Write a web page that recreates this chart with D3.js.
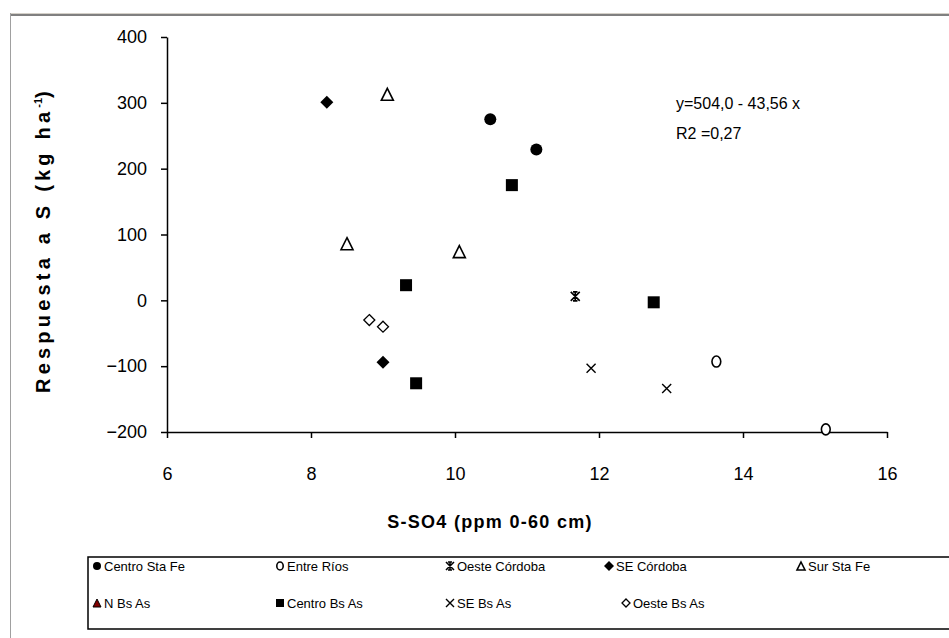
<!DOCTYPE html>
<html lang="es">
<head>
<meta charset="utf-8">
<script src="https://d3js.org/d3.v7.min.js"></script>
<style>
  body { margin: 0; background: #fff; }
  text { font-family: "Liberation Sans", Arial, sans-serif; fill: #000; }
</style>
</head>
<body>
<div id="chart"></div>
<script>
// groups in legend order
const groups = ["Centro Sta Fe", "Entre Ríos", "Oeste Córdoba", "SE Córdoba", "Sur Sta Fe",
                "N Bs As", "Centro Bs As", "SE Bs As", "Oeste Bs As"];

// points per group: S-SO4 (ppm) and response (kg/ha)
const centroStaFe = [[10.49, 275], [11.13, 229]];
const entreRios   = [[13.63, -93], [15.15, -196]];
const oesteCordoba = [[11.67, 6]];
const seCordoba   = [[8.22, 301], [9.0, -94]];
const surStaFe    = [[9.06, 313], [8.5, 86], [10.06, 74]];
const nBsAs       = [];
const centroBsAs  = [[10.79, 175], [9.32, 23], [12.76, -3], [9.46, -126]];
const seBsAs      = [[11.89, -103], [12.94, -134]];
const oesteBsAs   = [[8.81, -30], [9.0, -40]];

const xTicks = [6, 8, 10, 12, 14, 16];
const yTicks = [-200, -100, 0, 100, 200, 300, 400];

const W = 949, H = 638;
const svg = d3.select("#chart").append("svg").attr("width", W).attr("height", H);

// window frame
svg.append("line").attr("x1", 10).attr("x2", W).attr("y1", 13.5).attr("y2", 13.5).attr("stroke", "#d4d0c8").attr("stroke-width", 1);
svg.append("line").attr("x1", 10).attr("x2", W).attr("y1", 15).attr("y2", 15).attr("stroke", "#808080").attr("stroke-width", 2);
svg.append("line").attr("x1", 10.5).attr("x2", 10.5).attr("y1", 13).attr("y2", H).attr("stroke", "#a0a0a0").attr("stroke-width", 1);

const x = d3.scaleLinear().domain([6, 16]).range([167, 887]);
const y = d3.scaleLinear().domain([-200, 400]).range([432, 37]);

// axes
const xAxis = svg.append("g").attr("transform", "translate(0,432)")
  .call(d3.axisBottom(x).tickValues(xTicks).tickSize(6).tickSizeOuter(0));
const yAxis = svg.append("g").attr("transform", "translate(167,0)")
  .call(d3.axisLeft(y).tickValues(yTicks).tickSize(6).tickPadding(14).tickSizeOuter(0));
[xAxis, yAxis].forEach(g => {
  g.select(".domain").attr("stroke", "#000").attr("stroke-width", 1.5);
  g.selectAll(".tick line").attr("stroke", "#000").attr("stroke-width", 1.5);
  g.selectAll(".tick text").style("font-size", "18px").attr("fill", "#000");
});
xAxis.selectAll(".tick text").attr("y", 48).attr("dy", "0");

// axis titles
svg.append("text").attr("x", 490).attr("y", 528).attr("text-anchor", "middle")
  .style("font-size", "18px").style("font-weight", "bold").style("letter-spacing", "1.3px")
  .text("S-SO4 (ppm 0-60 cm)");
const yt = svg.append("text").attr("transform", "translate(50,240) rotate(-90)")
  .attr("text-anchor", "middle").style("font-size", "20px").style("font-weight", "bold")
  .style("letter-spacing", "4.2px");
yt.append("tspan").text("Respuesta a S (kg ha");
yt.append("tspan").attr("dy", -8).style("font-size", "11px").style("letter-spacing", "0px").text("-1");
yt.append("tspan").attr("dy", 8).text(")");

// regression text
svg.append("text").attr("x", 676).attr("y", 109).style("font-size", "16px").text("y=504,0 - 43,56 x");
svg.append("text").attr("x", 676).attr("y", 139).style("font-size", "16px").text("R2 =0,27");

// marker drawing
function marker(g, type, s) {
  const h = s / 2;
  if (type === "circleFill") g.append("circle").attr("r", h).attr("fill", "#000");
  else if (type === "circleOpen") g.append("ellipse").attr("rx", h * 0.8).attr("ry", h).attr("fill", "#fff").attr("stroke", "#000").attr("stroke-width", 1.6);
  else if (type === "square") g.append("rect").attr("x", -h).attr("y", -h).attr("width", s).attr("height", s).attr("fill", "#000");
  else if (type === "diamondFill") g.append("path").attr("d", `M0,${-h - 1}L${h + 1},0L0,${h + 1}L${-h - 1},0Z`).attr("fill", "#000");
  else if (type === "diamondOpen") g.append("path").attr("d", `M0,${-h}L${h},0L0,${h}L${-h},0Z`).attr("fill", "#fff").attr("stroke", "#000").attr("stroke-width", 1.3);
  else if (type === "triOpen") g.append("path").attr("d", `M0,${-h}L${h},${h}L${-h},${h}Z`).attr("fill", "#fff").attr("stroke", "#000").attr("stroke-width", 1.6);
  else if (type === "triRed") g.append("path").attr("d", `M0,${-h}L${h},${h}L${-h},${h}Z`).attr("fill", "#800000").attr("stroke", "#000").attr("stroke-width", 1);
  else if (type === "cross") g.append("path").attr("d", `M${-h},${-h}L${h},${h}M${h},${-h}L${-h},${h}`).attr("stroke", "#000").attr("stroke-width", 1.4);
  else if (type === "star") g.append("path").attr("d", `M${-h},${-h}L${h},${h}M${h},${-h}L${-h},${h}M0,${-h}L0,${h}M${-h/2},${-h}L${h/2},${-h}M${-h/2},${h}L${h/2},${h}`).attr("stroke", "#000").attr("stroke-width", 1.6);
}

const series = [
  { name: groups[0], data: centroStaFe, type: "circleFill", size: 12 },
  { name: groups[1], data: entreRios, type: "circleOpen", size: 11 },
  { name: groups[2], data: oesteCordoba, type: "star", size: 9 },
  { name: groups[3], data: seCordoba, type: "diamondFill", size: 11 },
  { name: groups[4], data: surStaFe, type: "triOpen", size: 12 },
  { name: groups[5], data: nBsAs, type: "triRed", size: 12 },
  { name: groups[6], data: centroBsAs, type: "square", size: 12 },
  { name: groups[7], data: seBsAs, type: "cross", size: 9 },
  { name: groups[8], data: oesteBsAs, type: "diamondOpen", size: 11 }
];

series.forEach(s => {
  s.data.forEach(d => {
    const g = svg.append("g").attr("transform", `translate(${x(d[0])},${y(d[1])})`);
    marker(g, s.type, s.size);
  });
});

// legend
svg.append("rect").attr("x", 88).attr("y", 557).attr("width", W).attr("height", 72)
  .attr("fill", "#fff").attr("stroke", "#000").attr("stroke-width", 1.5);
const legCols = [97, 280, 450, 609, 801];
series.forEach((s, i) => {
  const col = i < 5 ? i : i - 5;
  const row = i < 5 ? 0 : 1;
  let cx = legCols[col];
  if (i === 8) cx = 626;
  const cy = row === 0 ? 566 : 603;
  const g = svg.append("g").attr("transform", `translate(${cx},${cy})`);
  marker(g, s.type, 8);
  svg.append("text").attr("x", cx + 7).attr("y", cy + 5).style("font-size", "13px").text(s.name);
});
</script>
</body>
</html>
